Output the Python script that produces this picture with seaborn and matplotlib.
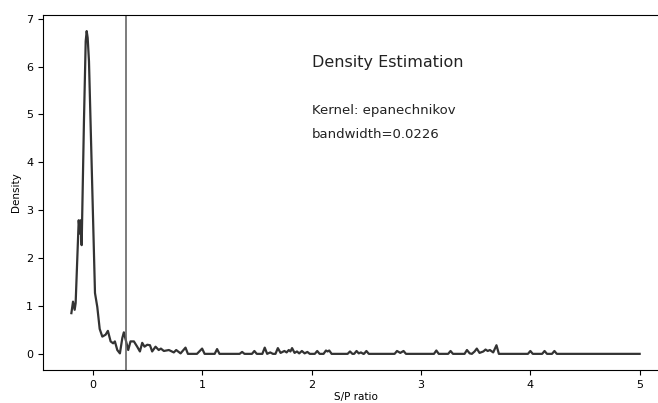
import matplotlib
matplotlib.use("Agg")
import matplotlib.pyplot as plt
import pandas as pd
import seaborn as sns


# curve (S/P ratio vs density)
SP_RATIO = [
    -0.199, -0.184, -0.169, -0.160, -0.132, -0.120, -0.114, -0.105, -0.084, -0.068,
    -0.059, -0.050, -0.038, -0.016, 0.008, 0.017, 0.038, 0.060, 0.084, 0.114,
    0.135, 0.160, 0.183, 0.199, 0.221, 0.245, 0.267, 0.281, 0.306, 0.321,
    0.342, 0.373, 0.403, 0.428, 0.449, 0.470, 0.495, 0.520, 0.540, 0.571,
    0.600, 0.620, 0.647, 0.693, 0.738, 0.760, 0.800, 0.845, 0.867, 0.950,
    0.975, 0.997, 1.020, 1.112, 1.134, 1.156,
    1.340, 1.363, 1.385,
    1.453, 1.475, 1.497,
    1.548, 1.570, 1.592, 1.620, 1.645,
    1.668, 1.690, 1.715, 1.750, 1.770, 1.790, 1.805, 1.820, 1.843, 1.865,
    1.885, 1.910, 1.935, 1.960, 1.982,
    2.028, 2.050, 2.072,
    2.108, 2.130, 2.145, 2.160, 2.182,
    2.328, 2.350, 2.372, 2.388, 2.410, 2.430, 2.450, 2.472, 2.478, 2.500, 2.522,
    2.758, 2.780, 2.810, 2.840, 2.862,
    3.118, 3.140, 3.162,
    3.248, 3.270, 3.292,
    3.398, 3.420, 3.445, 3.465, 3.490, 3.510, 3.535, 3.570, 3.590, 3.610,
    3.630, 3.660, 3.690, 3.712,
    3.978, 4.000, 4.022,
    4.108, 4.130, 4.152, 4.198, 4.220, 4.242,
    5.000,
]
DENSITY = [
    0.85, 1.09, 0.92, 1.06, 2.79, 2.51, 2.79, 2.27, 4.86, 6.53,
    6.74, 6.60, 6.11, 4.18, 2.10, 1.27, 0.98, 0.52, 0.36, 0.40,
    0.48, 0.26, 0.22, 0.26, 0.08, 0.01, 0.33, 0.45, 0.22, 0.08,
    0.26, 0.26, 0.15, 0.05, 0.23, 0.15, 0.19, 0.18, 0.05, 0.15,
    0.08, 0.11, 0.06, 0.08, 0.03, 0.08, 0.01, 0.13, 0.00, 0.00,
    0.06, 0.11, 0.00, 0.00, 0.10, 0.00,
    0.00, 0.04, 0.00,
    0.00, 0.06, 0.00,
    0.00, 0.13, 0.00, 0.03, 0.00,
    0.00, 0.12, 0.02, 0.06, 0.03, 0.08, 0.05, 0.12, 0.02, 0.05,
    0.01, 0.06, 0.01, 0.04, 0.00,
    0.00, 0.06, 0.00,
    0.00, 0.07, 0.05, 0.07, 0.00,
    0.00, 0.05, 0.00, 0.00, 0.06, 0.01, 0.03, 0.00, 0.00, 0.06, 0.00,
    0.00, 0.06, 0.02, 0.06, 0.00,
    0.00, 0.07, 0.00,
    0.00, 0.06, 0.00,
    0.00, 0.08, 0.01, 0.00, 0.05, 0.11, 0.02, 0.05, 0.09, 0.06,
    0.08, 0.03, 0.18, 0.00,
    0.00, 0.06, 0.00,
    0.00, 0.06, 0.00, 0.00, 0.06, 0.00,
    0.00,
]
THRESHOLD = 0.3
TITLE = "Density Estimation"
KERNEL_TEXT = "Kernel: epanechnikov"
BANDWIDTH_TEXT = "bandwidth=0.0226"


def main() -> None:
    df = pd.DataFrame({"sp_ratio": SP_RATIO, "density": DENSITY})

    fig = plt.figure(figsize=(6.58, 4.03), dpi=100)
    # the original figure is cropped on the right, so the axes run past the edge
    ax = fig.add_axes([0.0653, 0.0819, 0.950, 0.881])

    sns.lineplot(data=df, x="sp_ratio", y="density", color="#333333",
                 linewidth=1.6, ax=ax)
    ax.axvline(THRESHOLD, color="#666666", linewidth=1.2)
    ax.spines["right"].set_visible(False)

    ax.set_xticks([0, 1, 2, 3, 4, 5])
    ax.set_yticks([0, 1, 2, 3, 4, 5, 6, 7])
    ax.tick_params(labelsize=8)
    ax.set_xlabel("S/P ratio", fontsize=7.5, labelpad=2)
    ax.set_ylabel("Density", fontsize=7.5)

    ax.text(2, 6.0, TITLE, fontsize=11.5, color="#222222")
    ax.text(2, 5.0, KERNEL_TEXT, fontsize=9.5, color="#222222")
    ax.text(2, 4.5, BANDWIDTH_TEXT, fontsize=9.5, color="#222222")

    fig.savefig("out.png", dpi=100)
    plt.close(fig)


if __name__ == "__main__":
    main()
